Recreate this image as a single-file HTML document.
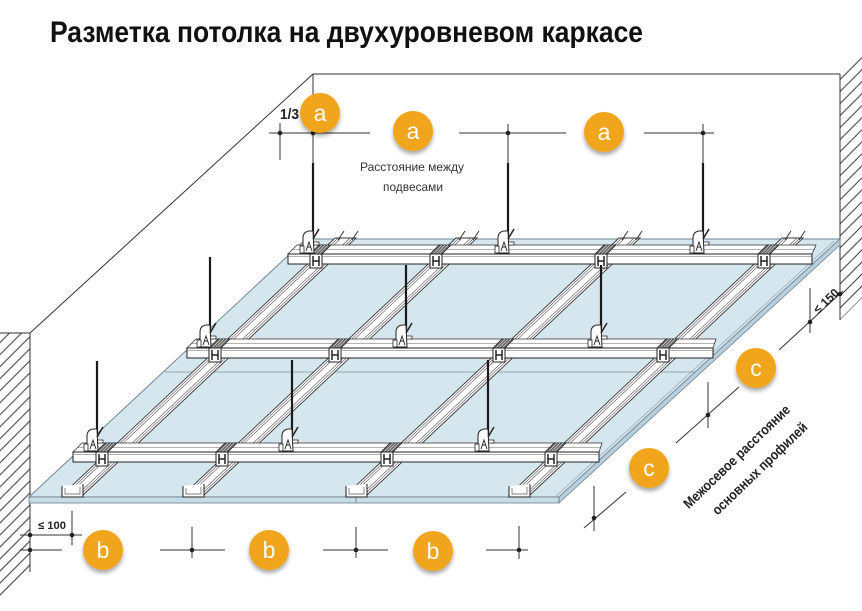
<!DOCTYPE html>
<html>
<head>
<meta charset="utf-8">
<style>
html,body{margin:0;padding:0;background:#fff;}
svg{display:block;}
</style>
</head>
<body>
<svg width="862" height="611" viewBox="0 0 862 611" xmlns="http://www.w3.org/2000/svg">
<defs>
  <pattern id="h" patternUnits="userSpaceOnUse" width="8.5" height="8.5" patternTransform="rotate(45)">
    <line x1="4.25" y1="0" x2="4.25" y2="8.5" stroke="#333" stroke-width="1"/>
  </pattern>
  <filter id="sh" x="-60%" y="-60%" width="220%" height="220%">
    <feDropShadow dx="0" dy="3" stdDeviation="2.2" flood-color="#000" flood-opacity="0.35"/>
  </filter>
  <g id="con">
    <path d="M-6,0 L6,0 L15,-9 L3,-9 Z" fill="#666" stroke="#222" stroke-width=".7"/>
    <path d="M-3,0 L6,-9 M0,0 L9,-9 M3,0 L12,-9" stroke="#ddd" stroke-width=".6"/>
    <rect x="-6" y="0" width="12" height="14" fill="#fff" stroke="#222" stroke-width="1"/>
    <path d="M-3,2 v10 M3,2 v10 M-3,7 h6" stroke="#222" stroke-width="1.5" fill="none"/>
  </g>
  <g id="hg">
    <path d="M-10,-1 L-10,-16 Q-10,-22 -4,-23 L0,-23 L1,-1 Z" fill="#fff" stroke="#222" stroke-width="1"/>
    <path d="M-7,-3 L-4,-12 L-1,-3 M-6,-7 h4" stroke="#222" stroke-width=".9" fill="none"/>
    <path d="M0,-15 L6,-25" stroke="#222" stroke-width="1.5"/>
    <rect x="-13" y="-8" width="4" height="7" fill="#fff" stroke="#222" stroke-width=".8"/>
    <path d="M1,-12 h5 v3 h-5" stroke="#222" stroke-width=".8" fill="#fff"/>
  </g>
</defs>

<!-- Title -->
<text x="50" y="42" font-family="Liberation Sans, sans-serif" font-weight="bold" font-size="30" fill="#111" textLength="593" lengthAdjust="spacingAndGlyphs">Разметка потолка на двухуровневом каркасе</text>

<!-- Walls -->
<polygon points="0,333 30,333 30,572 0,602" fill="url(#h)"/>
<line x1="0" y1="333" x2="30" y2="333" stroke="#333" stroke-width="1"/>
<line x1="30" y1="333" x2="30" y2="572" stroke="#333" stroke-width="1"/>
<polygon points="840,74 862,52 862,298 840,320" fill="url(#h)"/>
<line x1="840" y1="74" x2="840" y2="320" stroke="#333" stroke-width="1"/>
<line x1="313" y1="74" x2="840" y2="74" stroke="#333" stroke-width="1"/>
<line x1="313" y1="74" x2="30" y2="333" stroke="#333" stroke-width="1"/>
<line x1="313" y1="74" x2="313" y2="163" stroke="#333" stroke-width="1"/>

<!-- Ceiling plane -->
<polygon points="306,239 840,239 559,497 29,497" fill="#d6e6ef" stroke="#6f8794" stroke-width="1"/>
<polygon points="840,239 840,245 559,503 559,497" fill="#b9d0dc" stroke="#6f8794" stroke-width=".8"/>
<polygon points="29,497 559,497 559,503 29,503" fill="#c8dce6" stroke="#5f7884" stroke-width=".8"/>
<line x1="834" y1="241" x2="555" y2="497" stroke="#8fa6b2" stroke-width=".7"/>
<line x1="165" y1="372" x2="695" y2="372" stroke="#7d94a0" stroke-width=".8"/>
<line x1="356" y1="497" x2="356" y2="503" stroke="#5f7884" stroke-width=".8"/>

<!-- Diagonal (lower) profiles -->
<g stroke="#333" fill="#fff">
  <polygon points="62,495 83,495 356,238 335,238" stroke-width=".9"/>
  <polygon points="183,495 204,495 477,238 456,238" stroke-width=".9"/>
  <polygon points="346,495 367,495 640,238 619,238" stroke-width=".9"/>
  <polygon points="509,495 530,495 803,238 782,238" stroke-width=".9"/>
</g>
<g stroke="#555" stroke-width=".6" fill="none">
  <path d="M65,495 L338,238 M68,495 L341,238 M77,495 L350,238 M80,495 L353,238"/>
  <path d="M186,495 L459,238 M189,495 L462,238 M198,495 L471,238 M201,495 L474,238"/>
  <path d="M349,495 L622,238 M352,495 L625,238 M361,495 L634,238 M364,495 L637,238"/>
  <path d="M512,495 L785,238 M515,495 L788,238 M524,495 L797,238 M527,495 L800,238"/>
</g>
<g stroke="#222" fill="#fff">
  <path d="M62,486 V497 H83 V484" stroke-width="1"/>
  <path d="M183,486 V497 H204 V484" stroke-width="1"/>
  <path d="M346,486 V497 H367 V484" stroke-width="1"/>
  <path d="M509,486 V497 H530 V484" stroke-width="1"/>
</g>
<g stroke="#555" stroke-width=".7" fill="none">
  <path d="M65,488 V494 H80 V487 M186,488 V494 H201 V487 M349,488 V494 H364 V487 M512,488 V494 H527 V487"/>
</g>
<!-- back tabs -->
<g stroke="#333" stroke-width="1" fill="none">
  <path d="M338,240 L344,231 M352,240 L358,231"/>
  <path d="M459,240 L465,231 M473,240 L479,231"/>
  <path d="M622,240 L628,231 M636,240 L642,231"/>
  <path d="M785,240 L791,231 M799,240 L805,231"/>
</g>

<!-- Horizontal (upper) profiles -->
<g stroke="#333" fill="#fff">
  <path d="M288,254 L297,245 L816,245 L812,254 Z" stroke-width=".8"/>
  <rect x="288" y="254" width="524" height="10" stroke="#222" stroke-width="1"/>
  <path d="M187,348 L196,339 L716,339 L713,348 Z" stroke-width=".8"/>
  <rect x="187" y="348" width="526" height="10" stroke="#222" stroke-width="1"/>
  <path d="M73,452 L82,443 L602,443 L599,452 Z" stroke-width=".8"/>
  <rect x="73" y="452" width="526" height="10" stroke="#222" stroke-width="1"/>
</g>
<g stroke="#666" stroke-width=".6">
  <line x1="293" y1="249.5" x2="814" y2="249.5"/>
  <line x1="288" y1="256.5" x2="812" y2="256.5"/>
  <line x1="192" y1="343.5" x2="714" y2="343.5"/>
  <line x1="187" y1="350.5" x2="713" y2="350.5"/>
  <line x1="78" y1="447.5" x2="600" y2="447.5"/>
  <line x1="73" y1="454.5" x2="599" y2="454.5"/>
</g>

<!-- Connectors -->
<use href="#con" x="316" y="254"/>
<use href="#con" x="436" y="254"/>
<use href="#con" x="601" y="254"/>
<use href="#con" x="764" y="254"/>
<use href="#con" x="215" y="348"/>
<use href="#con" x="335" y="348"/>
<use href="#con" x="499" y="348"/>
<use href="#con" x="663" y="348"/>
<use href="#con" x="102" y="452"/>
<use href="#con" x="222" y="452"/>
<use href="#con" x="387" y="452"/>
<use href="#con" x="551" y="452"/>

<!-- Hanger rods -->
<g stroke="#1a1a1a" stroke-width="2.2">
  <line x1="313" y1="163" x2="313" y2="236"/>
  <line x1="508" y1="163" x2="508" y2="236"/>
  <line x1="703" y1="163" x2="703" y2="236"/>
  <line x1="210" y1="257" x2="210" y2="330"/>
  <line x1="406" y1="265" x2="406" y2="330"/>
  <line x1="601" y1="265" x2="601" y2="330"/>
  <line x1="97" y1="361" x2="97" y2="434"/>
  <line x1="292" y1="360" x2="292" y2="434"/>
  <line x1="488" y1="360" x2="488" y2="434"/>
</g>
<use href="#hg" x="313" y="254"/>
<use href="#hg" x="508" y="254"/>
<use href="#hg" x="703" y="254"/>
<use href="#hg" x="210" y="348"/>
<use href="#hg" x="406" y="348"/>
<use href="#hg" x="601" y="348"/>
<use href="#hg" x="97" y="452"/>
<use href="#hg" x="292" y="452"/>
<use href="#hg" x="488" y="452"/>

<!-- Top dimension (a) -->
<g stroke="#333" stroke-width="1">
  <line x1="269" y1="133" x2="370" y2="133"/>
  <line x1="280" y1="123" x2="280" y2="160"/>
  <line x1="459" y1="133" x2="566" y2="133"/>
  <line x1="508" y1="124" x2="508" y2="163"/>
  <line x1="644" y1="133" x2="714" y2="133"/>
  <line x1="703" y1="124" x2="703" y2="163"/>
</g>
<g fill="#222">
  <circle cx="280" cy="133" r="2.3"/>
  <circle cx="313" cy="133" r="2.3"/>
  <circle cx="508" cy="133" r="2.3"/>
  <circle cx="703" cy="133" r="2.3"/>
</g>
<text x="280" y="119" font-family="Liberation Sans, sans-serif" font-weight="bold" font-size="15" fill="#222" textLength="19" lengthAdjust="spacingAndGlyphs">1/3</text>
<text x="360" y="171" font-family="Liberation Sans, sans-serif" font-size="12" fill="#333" textLength="104" lengthAdjust="spacingAndGlyphs">Расстояние между</text>
<text x="383" y="191" font-family="Liberation Sans, sans-serif" font-size="12" fill="#333" textLength="60" lengthAdjust="spacingAndGlyphs">подвесами</text>

<!-- Bottom dimension (b) -->
<g stroke="#333" stroke-width="1">
  <line x1="20" y1="550" x2="62" y2="550"/>
  <line x1="20" y1="535" x2="82" y2="535"/>
  <line x1="72" y1="511" x2="72" y2="545"/>
  <line x1="160" y1="550" x2="225" y2="550"/>
  <line x1="192" y1="527" x2="192" y2="558"/>
  <line x1="323" y1="550" x2="388" y2="550"/>
  <line x1="356" y1="527" x2="356" y2="558"/>
  <line x1="486" y1="550" x2="528" y2="550"/>
  <line x1="519" y1="526" x2="519" y2="559"/>
</g>
<g fill="#222">
  <circle cx="30" cy="550" r="2.3"/>
  <circle cx="30" cy="535" r="2.3"/>
  <circle cx="72" cy="535" r="2.3"/>
  <circle cx="192" cy="550" r="2.3"/>
  <circle cx="356" cy="550" r="2.3"/>
  <circle cx="519" cy="550" r="2.3"/>
</g>
<text x="38" y="529" font-family="Liberation Sans, sans-serif" font-weight="bold" font-size="11" fill="#222" textLength="28" lengthAdjust="spacingAndGlyphs">≤ 100</text>

<!-- Right dimension (c) -->
<g stroke="#333" stroke-width="1">
  <line x1="843" y1="291" x2="779" y2="350"/>
  <line x1="810" y1="288" x2="810" y2="333"/>
  <line x1="739" y1="387" x2="676" y2="443"/>
  <line x1="708" y1="382" x2="708" y2="428"/>
  <line x1="626" y1="492" x2="584" y2="528"/>
  <line x1="594" y1="486" x2="594" y2="531"/>
</g>
<g fill="#222">
  <circle cx="840" cy="294" r="2.3"/>
  <circle cx="810" cy="322" r="2.3"/>
  <circle cx="708" cy="415" r="2.3"/>
  <circle cx="594" cy="518" r="2.3"/>
</g>
<text transform="translate(829,304) rotate(-44)" text-anchor="middle" font-family="Liberation Sans, sans-serif" font-weight="bold" font-size="12" fill="#222">≤ 150</text>
<text transform="translate(740,460) rotate(-44)" text-anchor="middle" font-family="Liberation Sans, sans-serif" font-weight="bold" font-size="14" fill="#222" textLength="142" lengthAdjust="spacingAndGlyphs">Межосевое расстояние</text>
<text transform="translate(763,472) rotate(-44)" text-anchor="middle" font-family="Liberation Sans, sans-serif" font-weight="bold" font-size="14" fill="#222" textLength="126" lengthAdjust="spacingAndGlyphs">основных профилей</text>

<!-- Badges -->
<g filter="url(#sh)" fill="#f0a51b">
  <circle cx="320" cy="113" r="20"/>
  <circle cx="413" cy="131" r="20"/>
  <circle cx="604" cy="132" r="20"/>
  <circle cx="103" cy="550" r="20"/>
  <circle cx="269" cy="550" r="20"/>
  <circle cx="433" cy="551" r="20"/>
  <circle cx="756" cy="368" r="20"/>
  <circle cx="649" cy="468" r="20"/>
</g>
<g font-family="Liberation Sans, sans-serif" font-size="23" fill="#fff" text-anchor="middle">
  <text x="320" y="121">a</text>
  <text x="413" y="139">a</text>
  <text x="604" y="140">a</text>
  <text x="103" y="558">b</text>
  <text x="269" y="558">b</text>
  <text x="433" y="559">b</text>
  <text x="756" y="376">c</text>
  <text x="649" y="476">c</text>
</g>
</svg>
</body>
</html>
